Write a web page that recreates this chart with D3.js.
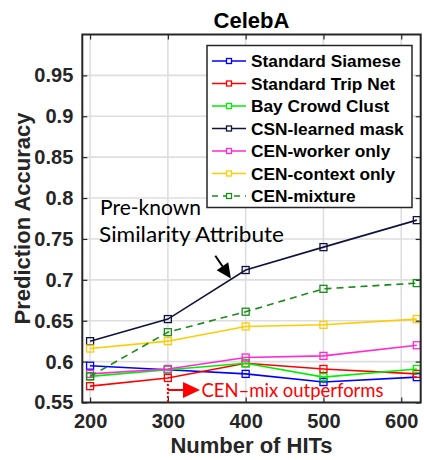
<!DOCTYPE html>
<html><head><meta charset="utf-8">
<script src="https://cdn.jsdelivr.net/npm/d3@7"></script>
<style>
html,body{margin:0;padding:0;background:#fff;}
svg{display:block;}
</style></head>
<body>
<script>
const hits = [200, 300, 400, 500, 620];
const seriesNames = ["Standard Siamese","Standard Trip Net","Bay Crowd Clust","CSN-learned mask","CEN-worker only","CEN-context only","CEN-mixture"];
const siamese  = [0.595, 0.590, 0.585, 0.575, 0.581];
const tripNet  = [0.570, 0.580, 0.598, 0.591, 0.585];
const bayCrowd = [0.582, 0.590, 0.598, 0.581, 0.591];
const csnMask  = [0.625, 0.652, 0.712, 0.740, 0.773];
const cenWorker  = [0.585, 0.591, 0.605, 0.607, 0.620];
const cenContext = [0.616, 0.625, 0.643, 0.645, 0.652];
const cenMixture = [0.582, 0.636, 0.661, 0.689, 0.696];
const seriesColors = ["#0000ff","#ff0000","#00ee00","#12123f","#ff2ad4","#ffcc00","#1a8c1a"];
const xTicks = [200, 300, 400, 500, 600];
const yTicks = [0.55, 0.6, 0.65, 0.7, 0.75, 0.8, 0.85, 0.9, 0.95];
const yTickLabels = ["0.55","0.6","0.65","0.7","0.75","0.8","0.85","0.9","0.95"];
const titleText = "CelebA";
const xLabel = "Number of HITs";
const yLabel = "Prediction Accuracy";

const allSeries = [siamese, tripNet, bayCrowd, csnMask, cenWorker, cenContext, cenMixture];

const W = 424, H = 460;
const L = 82.3, R = 420.7, T = 34.5, B = 402.5;
const svg = d3.select("body").append("svg").attr("width", W).attr("height", H);
const x = d3.scaleLinear().domain([190, 625]).range([L, R]);
const y = d3.scaleLinear().domain([0.55, 1.0]).range([B, T]);
const axisColor = "#262626";
const font = "'Liberation Sans', Arial, Helvetica, sans-serif";

// grid
const grid = svg.append("g");
grid.selectAll(".gx").data(xTicks).join("line")
  .attr("x1", d => x(d)).attr("x2", d => x(d)).attr("y1", T).attr("y2", B)
  .attr("stroke", "#dedede").attr("stroke-width", 1.6);
grid.selectAll(".gy").data(yTicks).join("line")
  .attr("x1", L).attr("x2", R).attr("y1", d => y(d)).attr("y2", d => y(d))
  .attr("stroke", "#dedede").attr("stroke-width", 1.6);

// axes
const xAxis = d3.axisBottom(x).tickValues(xTicks).tickSize(-5).tickPadding(11).tickFormat(d3.format("d"));
const gx = svg.append("g").attr("transform", `translate(0,${B})`).call(xAxis);
const yAxis = d3.axisLeft(y).tickValues(yTicks).tickSize(-5).tickPadding(9).tickFormat((d, i) => yTickLabels[i]);
const gy = svg.append("g").attr("transform", `translate(${L},0)`).call(yAxis);
const xAxisTop = d3.axisTop(x).tickValues(xTicks).tickSize(-5).tickFormat("");
svg.append("g").attr("transform", `translate(0,${T})`).call(xAxisTop);
const yAxisRight = d3.axisRight(y).tickValues(yTicks).tickSize(-5).tickFormat("");
svg.append("g").attr("transform", `translate(${R},0)`).call(yAxisRight);
svg.selectAll(".domain").remove();
svg.selectAll(".tick line").attr("stroke", axisColor).attr("stroke-width", 1.2);
[gx, gy].forEach(g => g.selectAll("text")
  .attr("font-family", font).attr("font-weight", "bold").attr("font-size", 20).attr("fill", axisColor));
gx.selectAll("text").attr("dy", "0.71em");

// series
const line = d3.line().x((d, i) => x(hits[i])).y(d => y(d));
allSeries.forEach((s, k) => {
  const g = svg.append("g");
  g.append("path").datum(s).attr("d", line).attr("fill", "none")
    .attr("stroke", seriesColors[k]).attr("stroke-width", 1.6)
    .attr("stroke-dasharray", k === 6 ? "7,5" : null);
  g.selectAll("rect").data(s).join("rect")
    .attr("x", (d, i) => x(hits[i]) - 3.5).attr("y", d => y(d) - 3.5)
    .attr("width", 7).attr("height", 7)
    .attr("fill", "none").attr("stroke", seriesColors[k]).attr("stroke-width", 1.3);
});

// box
svg.append("rect").attr("x", L).attr("y", T).attr("width", R - L).attr("height", B - T)
  .attr("fill", "none").attr("stroke", axisColor).attr("stroke-width", 2);

// title & labels
svg.append("text").attr("x", (L + R) / 2).attr("y", 28).attr("text-anchor", "middle")
  .attr("font-family", font).attr("font-weight", "bold").attr("font-size", 22).attr("fill", "#000").text(titleText);
svg.append("text").attr("x", (L + R) / 2).attr("y", 453).attr("text-anchor", "middle")
  .attr("font-family", font).attr("font-weight", "bold").attr("font-size", 22).attr("fill", axisColor).text(xLabel);
svg.append("text").attr("transform", `translate(30,${(T + B) / 2}) rotate(-90)`).attr("text-anchor", "middle")
  .attr("font-family", font).attr("font-weight", "bold").attr("font-size", 22).attr("fill", axisColor).text(yLabel);

// legend
const lg = svg.append("g");
lg.append("rect").attr("x", 207).attr("y", 45.5).attr("width", 205).attr("height", 162)
  .attr("fill", "#fff").attr("stroke", axisColor).attr("stroke-width", 1.5);
seriesNames.forEach((name, k) => {
  const cy = 61 + k * 22.5;
  lg.append("line").attr("x1", 212).attr("x2", 246).attr("y1", cy).attr("y2", cy)
    .attr("stroke", seriesColors[k]).attr("stroke-width", 1.6)
    .attr("stroke-dasharray", k === 6 ? "6,5" : null);
  lg.append("rect").attr("x", 226.5).attr("y", cy - 2.5).attr("width", 5).attr("height", 5)
    .attr("fill", "#fff").attr("stroke", seriesColors[k]).attr("stroke-width", 1.3);
  lg.append("text").attr("x", 251).attr("y", cy).attr("dy", "0.35em")
    .attr("font-family", font).attr("font-weight", "bold").attr("font-size", 17.3).attr("fill", "#000").text(name);
});

// annotations
const annFont = "Lato, 'Open Sans', sans-serif";
svg.append("text").attr("x", 100).attr("y", 215).attr("font-family", annFont).attr("font-size", 22)
  .attr("textLength", 101).attr("lengthAdjust", "spacingAndGlyphs")
  .attr("fill", "#000").text("Pre-known");
svg.append("text").attr("x", 99).attr("y", 242).attr("font-family", annFont).attr("font-size", 22)
  .attr("textLength", 185).attr("lengthAdjust", "spacingAndGlyphs")
  .attr("fill", "#000").text("Similarity Attribute");

function arrowHead(g, x0, y0, x1, y1, len, half, color) {
  const a = Math.atan2(y1 - y0, x1 - x0);
  const bx = x1 - len * Math.cos(a), by = y1 - len * Math.sin(a);
  const px = -Math.sin(a) * half, py = Math.cos(a) * half;
  g.append("path").attr("d", `M${x1},${y1}L${bx + px},${by + py}L${bx - px},${by - py}Z`).attr("fill", color);
  g.append("line").attr("x1", x0).attr("y1", y0).attr("x2", bx).attr("y2", by)
    .attr("stroke", color).attr("stroke-width", 2);
}
// black arrow (data coordinates)
arrowHead(svg.append("g"), x(361), y(0.7295), x(381), y(0.7015), 15, 7, "#000");

// red arrow + dotted
const rg = svg.append("g");
rg.append("line").attr("x1", x(300)).attr("x2", x(300)).attr("y1", 384).attr("y2", B - 1)
  .attr("stroke", "#ff0000").attr("stroke-width", 2).attr("stroke-dasharray", "2,2");
arrowHead(rg, x(300), 390, 200, 390, 17, 8, "#ff0000");
svg.append("text").attr("x", 201.5).attr("y", 397).attr("font-family", annFont).attr("font-size", 19)
  .attr("textLength", 182).attr("lengthAdjust", "spacingAndGlyphs")
  .attr("fill", "#ff0000").text("CEN–mix outperforms");
</script>
</body></html>
